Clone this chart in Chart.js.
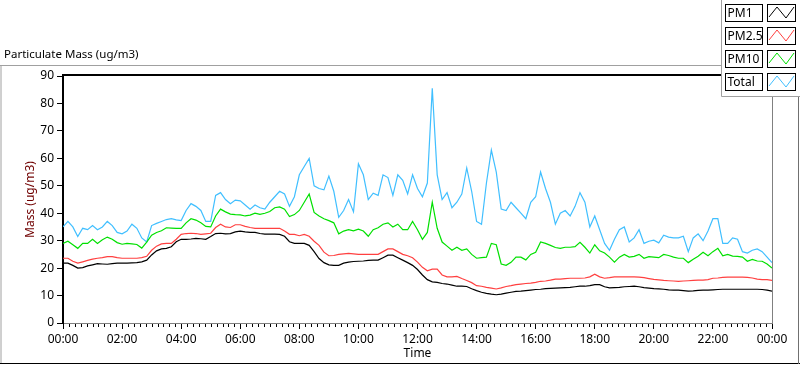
<!DOCTYPE html>
<html>
<head>
<meta charset="utf-8">
<script src="https://cdn.jsdelivr.net/npm/chart.js@4.4.1/dist/chart.umd.min.js"></script>
<style>
  html, body { margin: 0; padding: 0; background: #fff; }
  #wrap { width: 800px; height: 365px; }
</style>
</head>
<body>
<div id="wrap"><canvas id="pm-chart" width="800" height="365"></canvas></div>
<script>
// logger sample interval in minutes (one value every 10 min, 00:00 .. 24:00)
const STEP_MINUTES = 10;

const seriesNames = ['PM1', 'PM2.5', 'PM10', 'Total'];
const seriesColors = ['#000000', '#ff4040', '#00e000', '#40bfff'];

const pm1 = [
  21.8,21.8,21,20,20.2,20.8,21.2,21.6,21.5,21.4,
  21.6,21.8,21.8,21.8,21.9,22,22.3,22.9,24.8,26.3,
  27,27.2,27.8,29.6,30.5,30.5,30.6,30.8,30.7,30.5,
  31.5,32.6,32.7,32.5,32.6,33.2,33.5,33.2,33,33,
  32.6,32.4,32.4,32.4,32.3,31.6,29.6,29,29,29,
  28.3,26,23.5,22,21.2,21,21,21.8,22.2,22.4,
  22.5,22.6,22.8,22.9,22.9,23.8,24.7,24.7,23.8,22.9,
  22,21,19.5,17.5,15.8,15,14.8,14.4,14.2,13.8,
  13.4,13.4,13.3,12.5,11.8,11.2,10.8,10.5,10.3,10.5,
  10.9,11.2,11.5,11.6,11.8,12,12.2,12.3,12.5,12.6,
  12.7,12.8,12.9,13,13.2,13.4,13.4,13.6,14,14,
  13.2,12.8,12.9,13,13.2,13.3,13.4,13.2,12.9,12.7,
  12.5,12.4,12.3,12.1,12,12,11.8,11.6,11.7,11.9,
  12,12,12.1,12.2,12.3,12.3,12.3,12.3,12.3,12.3,
  12.3,12.3,12.2,12,11.6
];

const pm25 = [
  23.6,23.6,22.5,21.8,22.3,22.8,23.3,23.6,23.8,24.2,
  24.2,23.8,23.6,23.6,23.6,23.6,23.8,24.3,26.5,28,
  28.8,29,29,30.5,32.3,32.6,32.7,32.6,32.3,32.5,
  32.7,34.8,36,35,34.8,35.8,35.8,35.2,34.8,34.5,
  34.5,34.5,34.5,34.5,34.5,33.5,32.3,32.3,31.8,32.3,
  31.6,29.8,28.3,25.8,24.5,24.6,25,25.2,25.4,25.2,
  25,25,25,25,25,26,27,27,26,25,
  24.5,23.8,22.2,20.3,19,19.6,19.6,17.5,16.8,16.8,
  17,16.2,15.5,14.7,13.6,13.4,13,12.7,12.4,12.8,
  13.3,13.6,14,14.2,14.4,14.5,14.8,15.2,15.3,15.6,
  16,16,16.2,16.3,16.3,16.3,16.4,16.8,17.8,16.8,
  16.3,16.5,16.8,16.8,16.8,16.8,16.8,16.7,16.5,16.2,
  15.9,15.7,15.5,15.4,15.3,15.2,15.3,15.4,15.5,15.6,
  15.6,15.8,16.3,16.4,16.6,16.7,16.7,16.7,16.7,16.6,
  16.4,16,15.8,15.8,15.5
];

const pm10 = [
  29,29.8,28.5,27.2,29,29,30.5,29,30.3,31.3,
  30.5,29.3,28.7,29,28.8,28.6,27.3,29.5,32,33,
  33.6,34.7,34.6,34.5,34.5,36.5,38,37.5,36.5,35.2,
  35,39,41.5,40.5,39.7,39.5,39.4,39,39.3,40,
  39.6,40,40.6,42,42.3,41.5,38.8,39.5,41,44,
  47,40.3,39,38,37.3,36.5,32.5,33.5,34,33.6,
  34.2,33.5,31.6,34,34.7,36,36.5,35,36,34,
  34,37,34,30.5,33,44,34.5,29.5,28,26.5,
  27.6,26.5,27,25,23.6,23.8,24,29,28.5,21.5,
  21,22.1,24,24,23,25,25.8,29.5,29,28.3,
  27.5,27.2,27.6,27.6,27.8,29.4,27.6,25.5,28.5,26.3,
  25.5,24,22.2,24,25,24,24.3,25,23.6,24.2,
  24,23.8,25,24.6,24,23.6,23.6,22,23.2,24.3,
  25.8,24.5,26,27.2,24.5,25,24.4,24.3,24,22.5,
  23.2,22.6,22.5,21.5,20
];

const total = [
  35,37,35,31.5,34.5,34,35.5,34,35,37,
  35.5,33,32.5,33.5,36,34.5,31,29.5,35.5,36.3,
  37,37.7,38,37.6,37.3,41,43.5,42.5,41,37,
  37,46.5,47.5,45,43.5,44.8,44.5,43,41.5,43,
  42,41.5,44,46,48,47,42.5,46,54,57,
  60,50,49,48.5,53.5,48,38.5,41,45,40.5,
  58,54,45,47.3,46.5,54,53,46.5,54,52,
  47,54,49,46,51,85.5,54,45,47.5,42,
  44,47,56.5,48,37,36,51,63,55,41.5,
  41,44,42,40,38,44,46,55,49,44,
  36,40,41,39,42.5,47.5,44,35,39,34,
  29,26.5,30.5,34,35,29.5,31,34,29,29.8,
  30.2,29.2,32,31.3,31,31,31.6,26,31,32.5,
  30,33.5,38,38,29,29,31,30.5,26,25.5,
  26.5,27,26,24,22
];

const timeTicks = ['00:00', '02:00', '04:00', '06:00', '08:00', '10:00', '12:00',
                   '14:00', '16:00', '18:00', '20:00', '22:00', '00:00'];

const FONT = '"Noto Sans", "Open Sans", sans-serif';
Chart.defaults.font.family = FONT;
Chart.defaults.font.size = 12;
Chart.defaults.color = '#000';

// pair every value with its time of day (minutes)
function toPoints(values) {
  return values.map((v, i) => ({ x: i * STEP_MINUTES, y: v }));
}

// panel frame, title and plot borders (LabVIEW style chart)
const framePlugin = {
  id: 'frame',
  beforeDraw(chart) {
    const ctx = chart.ctx;
    ctx.save();
    ctx.fillStyle = '#fff';
    ctx.fillRect(0, 0, chart.width, chart.height);

    ctx.font = '11.5px ' + FONT;
    ctx.fillStyle = '#000';
    ctx.textBaseline = 'middle';
    ctx.fillText('Particulate Mass (ug/m3)', 4, 55);

    ctx.lineWidth = 1;
    ctx.strokeStyle = '#a0a0a0';
    ctx.beginPath();
    ctx.moveTo(0, 65.5); ctx.lineTo(800, 65.5);
    ctx.moveTo(1, 65); ctx.lineTo(1, 363);
    ctx.stroke();

    ctx.strokeStyle = '#000';
    ctx.beginPath();
    ctx.moveTo(0, 363.5); ctx.lineTo(800, 363.5);
    ctx.stroke();

    ctx.strokeStyle = '#707070';
    ctx.beginPath();
    ctx.moveTo(798.5, 96); ctx.lineTo(798.5, 364);
    ctx.stroke();
    ctx.restore();
  },
  afterDraw(chart) {
    const ctx = chart.ctx;
    const area = chart.chartArea;
    const x = chart.scales.x;
    ctx.save();
    // top and right border of the plot
    ctx.strokeStyle = '#000';
    ctx.lineWidth = 2;
    ctx.beginPath();
    ctx.moveTo(area.left - 1, area.top - 1); ctx.lineTo(area.right, area.top - 1);
    ctx.stroke();
    ctx.strokeStyle = '#808080';
    ctx.lineWidth = 1;
    ctx.beginPath();
    ctx.moveTo(area.right + 0.5, area.top); ctx.lineTo(area.right + 0.5, area.bottom);
    ctx.stroke();

    // minor ticks every 12 minutes
    ctx.strokeStyle = '#000';
    ctx.beginPath();
    for (let m = 12; m < 1440; m += 12) {
      if (m % 120 === 0) continue;
      const px = Math.round(x.getPixelForValue(m)) + 0.5;
      ctx.moveTo(px, area.bottom + 1);
      ctx.lineTo(px, area.bottom + 4);
    }
    ctx.stroke();
    ctx.restore();
  }
};

// legend panel in the upper right corner, built from the datasets
const panelLegend = {
  id: 'panelLegend',
  afterDraw(chart) {
    const ctx = chart.ctx;
    ctx.save();
    ctx.fillStyle = '#fff';
    ctx.fillRect(722, 0, 78, 96);
    ctx.strokeStyle = '#a0a0a0';
    ctx.lineWidth = 1;
    ctx.beginPath();
    ctx.moveTo(721.5, 0); ctx.lineTo(721.5, 96.5); ctx.lineTo(800, 96.5);
    ctx.stroke();

    ctx.font = '12px ' + FONT;
    ctx.textBaseline = 'middle';
    chart.data.datasets.forEach((ds, i) => {
      const top = 4 + i * 23;
      ctx.strokeStyle = '#000';
      ctx.lineWidth = 1;
      ctx.strokeRect(725.5, top + 0.5, 37, 17);
      ctx.strokeRect(767.5, top + 0.5, 28, 17);
      ctx.fillStyle = '#000';
      ctx.fillText(ds.label, 727.5, top + 9.5);
      ctx.strokeStyle = ds.borderColor;
      ctx.beginPath();
      ctx.moveTo(769, top + 13);
      ctx.lineTo(777, top + 3);
      ctx.lineTo(786, top + 14);
      ctx.lineTo(794, top + 3);
      ctx.stroke();
    });
    ctx.restore();
  }
};

const seriesValues = [pm1, pm25, pm10, total];

new Chart(document.getElementById('pm-chart'), {
  type: 'line',
  data: {
    datasets: seriesNames.map((name, i) => ({
      label: name,
      data: toPoints(seriesValues[i]),
      borderColor: seriesColors[i],
      borderWidth: 1.2,
      pointRadius: 0,
      tension: 0,
      fill: false
    }))
  },
  options: {
    responsive: false,
    animation: false,
    events: [],
    layout: { padding: { left: 0, top: 76, right: 28, bottom: 0 } },
    plugins: {
      legend: { display: false },
      tooltip: { enabled: false }
    },
    scales: {
      x: {
        type: 'linear',
        min: 0,
        max: 1440,
        afterFit(scale) { scale.height = 42; },
        ticks: {
          stepSize: 120,
          autoSkip: false,
          maxRotation: 0,
          padding: 3,
          callback: (v) => timeTicks[Math.round(v / 120)]
        },
        grid: { drawOnChartArea: false, tickLength: 6, tickColor: '#000' },
        border: { color: '#808080', width: 1 },
        title: { display: true, text: 'Time', color: '#000', font: { size: 12 }, padding: { top: 0, bottom: 4 } }
      },
      y: {
        min: 0,
        max: 90,
        afterFit(scale) { scale.width = 63; },
        ticks: { stepSize: 10, padding: 3 },
        grid: { drawOnChartArea: false, tickLength: 6, tickColor: '#000' },
        border: { color: '#000', width: 2 },
        title: { display: true, text: 'Mass (ug/m3)', color: '#700000', font: { size: 12 }, padding: { top: 23, bottom: 0 } }
      }
    }
  },
  plugins: [framePlugin, panelLegend]
});
</script>
</body>
</html>
